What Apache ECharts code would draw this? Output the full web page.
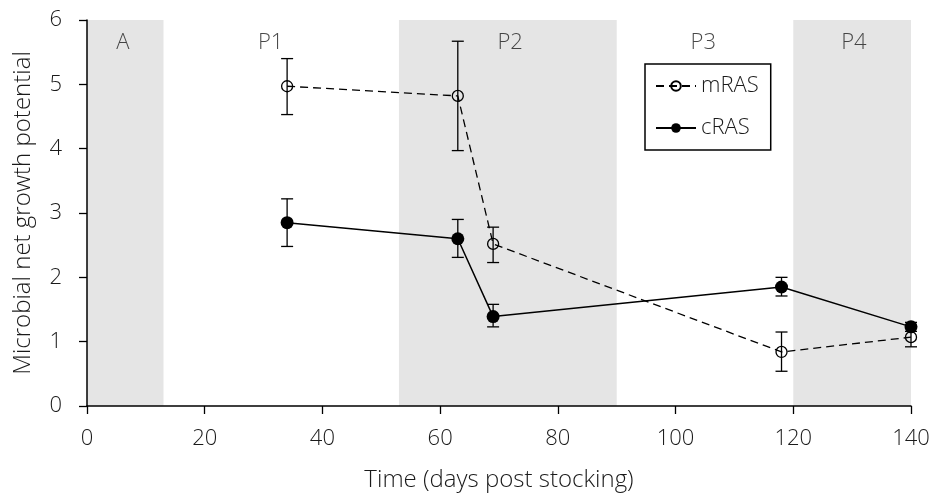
<!DOCTYPE html>
<html><head><meta charset="utf-8">
<script src="https://cdn.jsdelivr.net/npm/echarts@6/dist/echarts.min.js"></script>
<style>html,body{margin:0;padding:0;background:#fff}#c{width:933px;height:493px}</style>
</head><body><div id="c"></div>
<script>
const days = [34, 63, 69, 118, 140];
const mRAS = [4.97, 4.82, 2.52, 0.84, 1.07];
const mRASLow = [4.53, 3.97, 2.23, 0.54, 0.92];
const mRASHigh = [5.40, 5.67, 2.78, 1.15, 1.22];
const cRAS = [2.85, 2.60, 1.39, 1.85, 1.23];
const cRASLow = [2.48, 2.31, 1.23, 1.71, 1.16];
const cRASHigh = [3.22, 2.90, 1.58, 2.00, 1.30];
const shadedStart = [0, 53, 120];
const shadedEnd = [13, 90, 140];
const phaseNames = ['A', 'P1', 'P2', 'P3', 'P4'];
const phaseLabelX = [6.1, 31.2, 71.9, 104.7, 130.3];
const phaseLabelY = 5.64;
const xTicks = [0, 20, 40, 60, 80, 100, 120, 140];
const yTicks = [0, 1, 2, 3, 4, 5, 6];

const FONT = '"Open Sans", "Noto Sans", sans-serif';
const TXT = '#1a1a1a';
const FW = 300;

function errSeries(name, lo, hi) {
  return {
    name: name + '_err', type: 'custom', z: 5, silent: true,
    data: days.map((d, i) => [d, lo[i], hi[i]]),
    renderItem: function (params, api) {
      const x = api.value(0);
      const p1 = api.coord([x, api.value(1)]);
      const p2 = api.coord([x, api.value(2)]);
      const w = 6;
      const st = { stroke: '#000', lineWidth: 1.3 };
      return { type: 'group', children: [
        { type: 'line', shape: { x1: p1[0], y1: p1[1], x2: p2[0], y2: p2[1] }, style: st },
        { type: 'line', shape: { x1: p1[0] - w, y1: p1[1], x2: p1[0] + w, y2: p1[1] }, style: st },
        { type: 'line', shape: { x1: p2[0] - w, y1: p2[1], x2: p2[0] + w, y2: p2[1] }, style: st }
      ]};
    }
  };
}

const chart = echarts.init(document.getElementById('c'), null, { renderer: 'canvas' });
chart.setOption({
  animation: false,
  backgroundColor: '#fff',
  textStyle: { fontFamily: FONT, color: TXT, fontWeight: FW },
  grid: { left: 87, right: 22, top: 20, bottom: 87, containLabel: false, outerBoundsMode: 'none' },
  legend: {
    data: ['mRAS', 'cRAS'],
    orient: 'vertical', left: 645, top: 64, width: 125,
    borderColor: '#000', borderWidth: 1.5,
    padding: [11, 12, 11, 10], itemGap: 20,
    itemWidth: 40, itemHeight: 12,
    textStyle: { fontFamily: FONT, fontWeight: FW, fontSize: 22, color: TXT, padding: [0, 8, 0, 0] }
  },
  xAxis: {
    type: 'value', min: 0, max: 140, interval: 20, z: 6,
    name: 'Time (days post stocking)', nameLocation: 'middle', nameGap: 62,
    nameTextStyle: { fontFamily: FONT, fontWeight: FW, fontSize: 24, color: TXT },
    axisLine: { lineStyle: { color: '#000', width: 1.5 } },
    axisTick: { show: true, inside: false, length: 8, lineStyle: { color: '#000', width: 1.3 } },
    axisLabel: { fontFamily: FONT, fontWeight: FW, fontSize: 22, color: TXT, margin: 22,
      formatter: v => xTicks.includes(v) ? String(v) : '' },
    splitLine: { show: false }
  },
  yAxis: {
    type: 'value', min: 0, max: 6, interval: 1, z: 6,
    name: 'Microbial net growth potential', nameLocation: 'middle', nameGap: 52,
    nameTextStyle: { fontFamily: FONT, fontWeight: FW, fontSize: 24, color: TXT },
    axisLine: { show: true, lineStyle: { color: '#000', width: 1.5 } },
    axisTick: { show: true, length: 8, lineStyle: { color: '#000', width: 1.3 } },
    axisLabel: { fontFamily: FONT, fontWeight: FW, fontSize: 22, color: TXT, margin: 25,
      formatter: v => yTicks.includes(v) ? String(v) : '' },
    splitLine: { show: false }
  },
  series: [
    {
      name: 'bands', type: 'line', data: [], silent: true, z: 1,
      markArea: {
        silent: true,
        itemStyle: { color: '#e5e5e5' },
        data: shadedStart.map((s, i) => [{ xAxis: s, yAxis: 0 }, { xAxis: shadedEnd[i], yAxis: 6 }])
      }
    },
    {
      name: 'phases', type: 'scatter', symbolSize: 0, silent: true, z: 3,
      data: phaseNames.map((n, i) => ({ value: [phaseLabelX[i], phaseLabelY], name: n })),
      label: { show: true, position: 'inside', formatter: p => p.name,
        fontFamily: FONT, fontWeight: FW, fontSize: 22, color: TXT }
    },
    {
      name: 'mRAS', type: 'line', z: 4,
      data: days.map((d, i) => [d, mRAS[i]]),
      symbol: 'circle', symbolSize: 11,
      itemStyle: { color: 'transparent', borderColor: '#000', borderWidth: 1.3 },
      lineStyle: { color: '#000', width: 1.3, type: [8, 5] }
    },
    {
      name: 'cRAS', type: 'line', z: 4,
      data: days.map((d, i) => [d, cRAS[i]]),
      symbol: 'circle', symbolSize: 13,
      itemStyle: { color: '#000', borderColor: '#000', borderWidth: 0 },
      lineStyle: { color: '#000', width: 1.5, type: 'solid' }
    },
    errSeries('mRAS', mRASLow, mRASHigh),
    errSeries('cRAS', cRASLow, cRASHigh)
  ]
});
</script></body></html>
